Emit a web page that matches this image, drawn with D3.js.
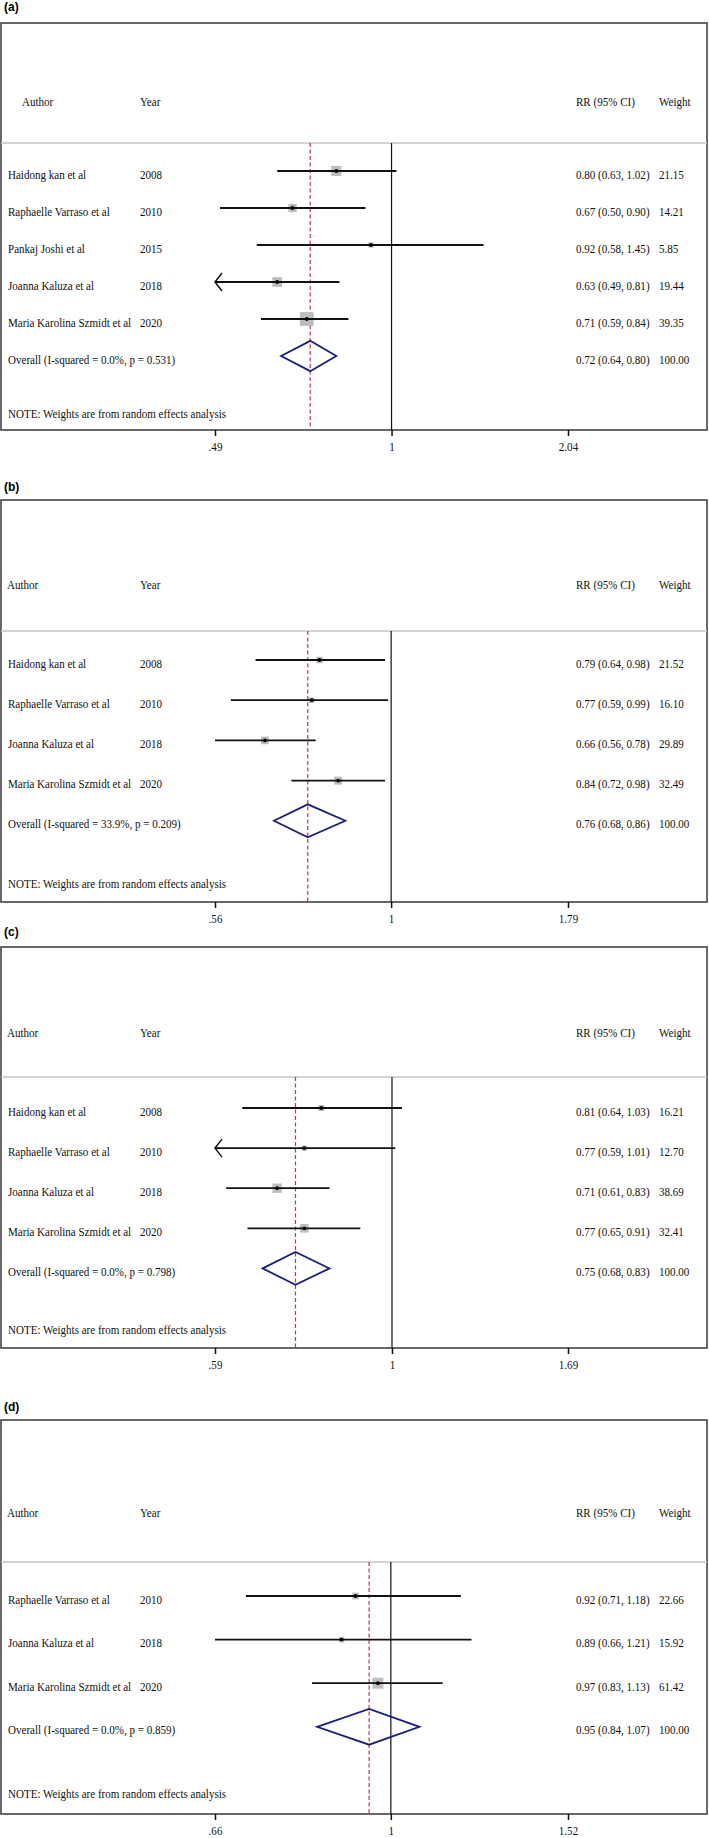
<!DOCTYPE html>
<html>
<head>
<meta charset="utf-8">
<script src="https://cdn.jsdelivr.net/npm/d3@7"></script>
<style>
  body { margin: 0; background: #fff; }
  svg { display: block; }
</style>
</head>
<body>
<svg id="chart" width="709" height="1838"></svg>
<script>
// panel (a)
const authorsA = ["Haidong kan et al", "Raphaelle Varraso et al", "Pankaj Joshi et al", "Joanna Kaluza et al", "Maria Karolina Szmidt et al"];
const yearsA = [2008, 2010, 2015, 2018, 2020];
const rrA = [0.80, 0.67, 0.92, 0.63, 0.71];
const lowA = [0.63, 0.50, 0.58, 0.49, 0.59];
const highA = [1.02, 0.90, 1.45, 0.81, 0.84];
const weightA = [21.15, 14.21, 5.85, 19.44, 39.35];
const arrowA = [false, false, false, true, false];
const overallA = [0.72, 0.64, 0.80];
const hetA = "Overall (I-squared = 0.0%, p = 0.531)";
const ticksA = [0.49, 1, 2.04];
const tickLabelsA = [".49", "1", "2.04"];

// panel (b)
const authorsB = ["Haidong kan et al", "Raphaelle Varraso et al", "Joanna Kaluza et al", "Maria Karolina Szmidt et al"];
const yearsB = [2008, 2010, 2018, 2020];
const rrB = [0.79, 0.77, 0.66, 0.84];
const lowB = [0.64, 0.59, 0.56, 0.72];
const highB = [0.98, 0.99, 0.78, 0.98];
const weightB = [21.52, 16.10, 29.89, 32.49];
const arrowB = [false, false, false, false];
const overallB = [0.76, 0.68, 0.86];
const hetB = "Overall (I-squared = 33.9%, p = 0.209)";
const ticksB = [0.56, 1, 1.79];
const tickLabelsB = [".56", "1", "1.79"];

// panel (c)
const authorsC = ["Haidong kan et al", "Raphaelle Varraso et al", "Joanna Kaluza et al", "Maria Karolina Szmidt et al"];
const yearsC = [2008, 2010, 2018, 2020];
const rrC = [0.81, 0.77, 0.71, 0.77];
const lowC = [0.64, 0.59, 0.61, 0.65];
const highC = [1.03, 1.01, 0.83, 0.91];
const weightC = [16.21, 12.70, 38.69, 32.41];
const arrowC = [false, true, false, false];
const overallC = [0.75, 0.68, 0.83];
const hetC = "Overall (I-squared = 0.0%, p = 0.798)";
const ticksC = [0.59, 1, 1.69];
const tickLabelsC = [".59", "1", "1.69"];

// panel (d)
const authorsD = ["Raphaelle Varraso et al", "Joanna Kaluza et al", "Maria Karolina Szmidt et al"];
const yearsD = [2010, 2018, 2020];
const rrD = [0.92, 0.89, 0.97];
const lowD = [0.71, 0.66, 0.83];
const highD = [1.18, 1.21, 1.13];
const weightD = [22.66, 15.92, 61.42];
const arrowD = [false, false, false];
const overallD = [0.95, 0.84, 1.07];
const hetD = "Overall (I-squared = 0.0%, p = 0.859)";
const ticksD = [0.66, 1, 1.52];
const tickLabelsD = [".66", "1", "1.52"];

const note = "NOTE: Weights are from random effects analysis";

// layout of each panel (pixel positions, not data)
const panels = [
  { tag: "(a)", tagY: 11, top: 23, header: 101, headerX: 22, sep: 143, row0: 171, step: 37, noteY: 413, bottom: 430, box: 2.2,
    authors: authorsA, years: yearsA, rr: rrA, low: lowA, high: highA, weight: weightA, arrow: arrowA,
    overall: overallA, het: hetA, ticks: ticksA, tickLabels: tickLabelsA },
  { tag: "(b)", tagY: 491, top: 500, header: 584, headerX: 7, sep: 631, row0: 660, step: 40.2, noteY: 883, bottom: 902, box: 1.4,
    authors: authorsB, years: yearsB, rr: rrB, low: lowB, high: highB, weight: weightB, arrow: arrowB,
    overall: overallB, het: hetB, ticks: ticksB, tickLabels: tickLabelsB },
  { tag: "(c)", tagY: 936, top: 947, header: 1032, headerX: 7, sep: 1077, row0: 1108, step: 40.1, noteY: 1329, bottom: 1348, box: 1.5,
    authors: authorsC, years: yearsC, rr: rrC, low: lowC, high: highC, weight: weightC, arrow: arrowC,
    overall: overallC, het: hetC, ticks: ticksC, tickLabels: tickLabelsC },
  { tag: "(d)", tagY: 1411, top: 1420, header: 1512, headerX: 7, sep: 1562, row0: 1596, step: 43.6, noteY: 1793, bottom: 1814, box: 1.4,
    authors: authorsD, years: yearsD, rr: rrD, low: lowD, high: highD, weight: weightD, arrow: arrowD,
    overall: overallD, het: hetD, ticks: ticksD, tickLabels: tickLabelsD }
];

const W = 709;
const serif = "'Liberation Serif', 'Times New Roman', serif";
const squeeze = 0.85;

const svg = d3.select("#chart");

// serif text is narrow in the original, so squeeze it horizontally
function label(g, x, y, txt, anchor) {
  return g.append("text")
    .attr("transform", `translate(${x},${y}) scale(${squeeze},1)`)
    .attr("font-family", serif)
    .attr("font-size", 13)
    .attr("fill", "#111")
    .attr("text-anchor", anchor || "start")
    .text(txt);
}

const f2 = d3.format(".2f");

panels.forEach((p) => {
  const g = svg.append("g");
  const n = p.rr.length;

  const x = d3.scaleLog()
    .domain([p.ticks[0], p.ticks[2]])
    .range([215, 568]);

  const y = d3.scaleLinear()
    .domain([0, 1])
    .range([p.row0, p.row0 + p.step]);

  g.append("text")
    .attr("x", 4).attr("y", p.tagY)
    .attr("font-family", "'Liberation Sans', Arial, sans-serif")
    .attr("font-weight", "bold")
    .attr("font-size", 12)
    .text(p.tag);

  // frame
  g.append("rect")
    .attr("x", 1).attr("y", p.top)
    .attr("width", W - 3).attr("height", p.bottom - p.top)
    .attr("fill", "none")
    .attr("stroke", "#444")
    .attr("stroke-width", 1.6);

  g.append("line")
    .attr("x1", 1).attr("x2", W - 2)
    .attr("y1", p.sep).attr("y2", p.sep)
    .attr("stroke", "#c4c4c4")
    .attr("stroke-width", 1.5);

  // headers
  label(g, p.headerX, p.header + 4.5, "Author");
  label(g, 140, p.header + 4.5, "Year");
  label(g, 576, p.header + 4.5, "RR (95% CI)");
  label(g, 659, p.header + 4.5, "Weight");

  // null line and pooled estimate line
  g.append("line")
    .attr("x1", x(1)).attr("x2", x(1))
    .attr("y1", p.sep).attr("y2", p.bottom)
    .attr("stroke", "#111").attr("stroke-width", 1.2);

  g.append("line")
    .attr("x1", x(p.overall[0])).attr("x2", x(p.overall[0]))
    .attr("y1", p.sep).attr("y2", p.bottom)
    .attr("stroke", "#c0394a").attr("stroke-width", 1.2)
    .attr("stroke-dasharray", "4,2.5");

  // x axis ticks
  const axis = d3.axisBottom(x)
    .tickValues(p.ticks)
    .tickSize(6)
    .tickFormat((d, i) => p.tickLabels[i]);
  const ax = g.append("g")
    .attr("transform", `translate(0,${p.bottom})`)
    .call(axis);
  ax.select(".domain").remove();
  ax.selectAll(".tick line").attr("stroke", "#111").attr("stroke-width", 1.5);
  ax.selectAll(".tick text")
    .attr("font-family", serif)
    .attr("font-size", 13)
    .attr("fill", "#111")
    .attr("dy", 0)
    .attr("y", 0)
    .attr("transform", `translate(0,21) scale(${squeeze},1)`);

  // studies
  const rows = d3.range(n);
  rows.forEach((i) => {
    const cy = y(i);
    const xlo = x(Math.max(p.low[i], p.ticks[0]));
    const xhi = x(Math.min(p.high[i], p.ticks[2]));
    const s = p.box * Math.sqrt(p.weight[i]);

    g.append("rect")
      .attr("x", x(p.rr[i]) - s / 2).attr("y", cy - s / 2)
      .attr("width", s).attr("height", s)
      .attr("fill", "#bdbdbd");

    g.append("line")
      .attr("x1", xlo).attr("x2", xhi)
      .attr("y1", cy).attr("y2", cy)
      .attr("stroke", "#111").attr("stroke-width", 1.8);

    if (p.arrow[i]) {
      g.append("path")
        .attr("d", `M${xlo + 7},${cy - 9}L${xlo},${cy}L${xlo + 7},${cy + 9}`)
        .attr("fill", "none")
        .attr("stroke", "#111").attr("stroke-width", 1.5);
    }

    g.append("circle")
      .attr("cx", x(p.rr[i])).attr("cy", cy).attr("r", 1.9)
      .attr("fill", "#000");

    label(g, 8, cy + 7.5, p.authors[i]);
    label(g, 140, cy + 7.5, String(p.years[i]));
    label(g, 576, cy + 7.5, `${f2(p.rr[i])} (${f2(p.low[i])}, ${f2(p.high[i])})`);
    label(g, 659, cy + 7.5, f2(p.weight[i]));
  });

  // pooled diamond
  const oy = y(n);
  const h = p.step * 0.41;
  const [est, lo, hi] = p.overall;
  g.append("path")
    .attr("d", `M${x(lo)},${oy}L${x(est)},${oy - h}L${x(hi)},${oy}L${x(est)},${oy + h}Z`)
    .attr("fill", "none")
    .attr("stroke", "#1c1f7a")
    .attr("stroke-width", 1.8);

  label(g, 8, oy + 7.5, p.het);
  label(g, 576, oy + 7.5, `${f2(est)} (${f2(lo)}, ${f2(hi)})`);
  label(g, 659, oy + 7.5, f2(100));

  label(g, 8, p.noteY + 4.5, note);
});
</script>
</body>
</html>
